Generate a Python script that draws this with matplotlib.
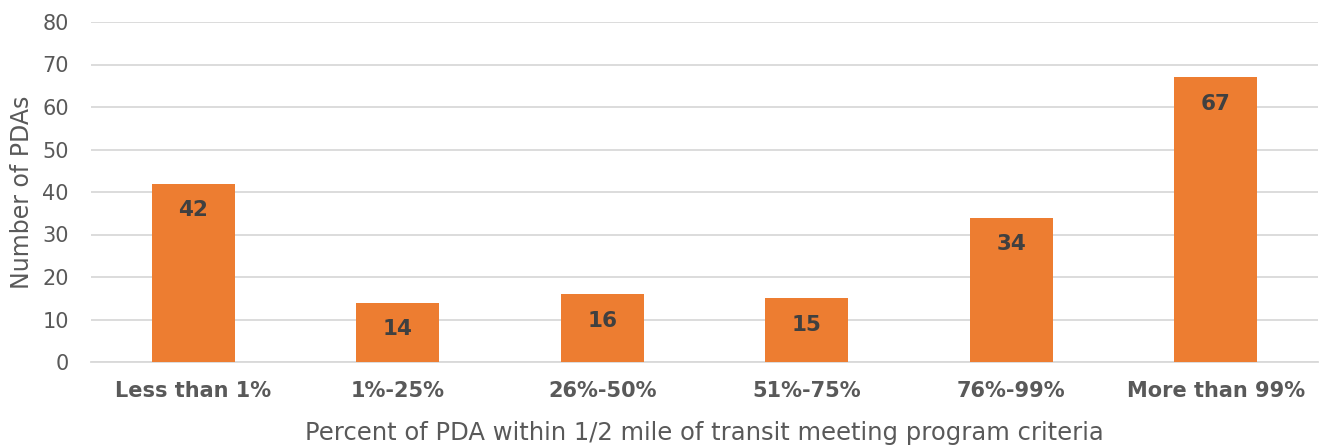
import matplotlib.pyplot as plt

categories = ['Less than 1%', '1%-25%', '26%-50%', '51%-75%', '76%-99%', 'More than 99%']
counts = [42, 14, 16, 15, 34, 67]

plt.rcParams['font.family'] = ['DejaVu Sans']

fig = plt.figure(figsize=(13.25, 4.47), dpi=100)
ax = fig.add_axes([91 / 1325, 85 / 447, 1227 / 1325, 340 / 447])

x = range(len(categories))
bars = ax.bar(x, counts, width=0.405, color='#ED7D31', zorder=3)

for b, v in zip(bars, counts):
    ax.text(b.get_x() + b.get_width() / 2, v - 6.3, str(v), ha='center', va='center',
            fontsize=15.5, fontweight='bold', color='#404040', zorder=4)

ax.set_xlim(-0.5, len(categories) - 0.5)
ax.set_ylim(0, 80)
ax.set_yticks(range(0, 81, 10))
ax.grid(axis='y', color='#d9d9d9', linewidth=1.3, zorder=0)
for s in ['top', 'right', 'left']:
    ax.spines[s].set_visible(False)
ax.spines['bottom'].set_color('#d9d9d9')
ax.spines['bottom'].set_linewidth(1.3)

ax.set_xticks(list(x))
ax.set_xticklabels(categories, fontsize=15, fontweight='bold', color='#595959')
ax.tick_params(axis='x', length=0, pad=14)
ax.tick_params(axis='y', length=0, pad=16, labelsize=15, labelcolor='#595959')

ax.set_xlabel('Percent of PDA within 1/2 mile of transit meeting program criteria',
              fontsize=17.5, color='#595959', labelpad=14)
ax.set_ylabel('Number of PDAs', fontsize=17, color='#595959', labelpad=6)

fig.savefig('out.png', dpi=100)
